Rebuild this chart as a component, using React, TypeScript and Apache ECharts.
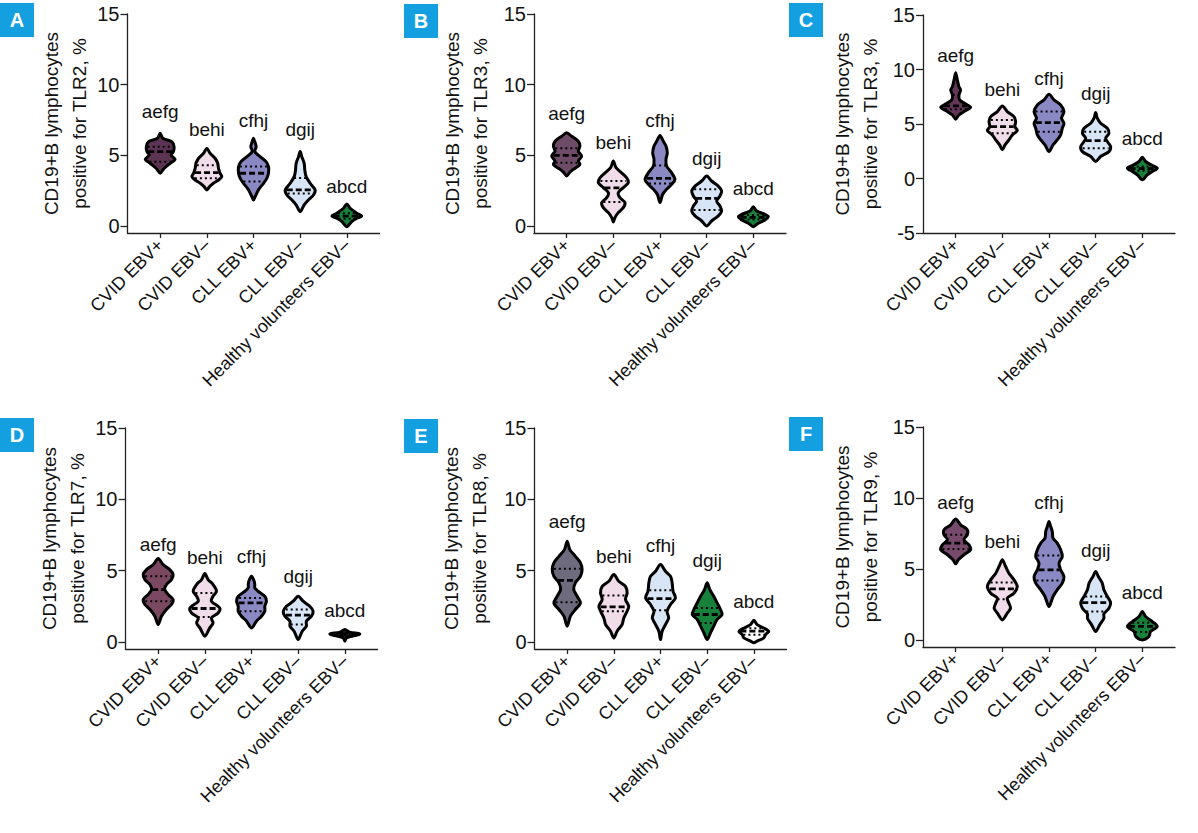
import React, { useEffect, useRef } from "react";
import * as echarts from "echarts";

const categories = ["CVID EBV+", "CVID EBV–", "CLL EBV+", "CLL EBV–", "Healthy volunteers EBV–"];
const letters = ["aefg", "behi", "cfhj", "dgij", "abcd"];
const panelLetters = ["A", "B", "C", "D", "E", "F"];
const receptors = ["TLR2", "TLR3", "TLR3", "TLR7", "TLR8", "TLR9"];
const yMins = [-0.5, -0.5, -5, -0.5, -0.5, -0.5];
const yTicks = [[0, 5, 10, 15], [0, 5, 10, 15], [-5, 0, 5, 10, 15], [0, 5, 10, 15], [0, 5, 10, 15], [0, 5, 10, 15]];

// violin profiles: [value, relative half-width]
const shapesA = [
  [[6.56, 0], [6.2, 0.18], [5.97, 0.78], [5.61, 0.93], [5.26, 0.89], [5.02, 0.73], [4.72, 1], [4.43, 0.67], [4.08, 0.27], [3.73, 0]],
  [[5.5, 0], [5.14, 0.22], [4.79, 0.55], [4.43, 0.73], [4.08, 0.78], [3.73, 0.89], [3.49, 1], [3.25, 0.78], [3.02, 0.44], [2.78, 0.18], [2.55, 0]],
  [[6.2, 0], [5.85, 0.12], [5.6, 0.18], [5.26, 0.09], [4.9, 0.44], [4.55, 0.84], [4.2, 1], [3.73, 1], [3.37, 0.89], [3.02, 0.67], [2.55, 0.33], [2.08, 0.11], [1.84, 0]],
  [[5.26, 0], [4.9, 0.11], [4.43, 0.27], [3.96, 0.31], [3.49, 0.4], [3.02, 0.67], [2.55, 1], [2.19, 0.89], [1.84, 0.55], [1.49, 0.27], [1.01, 0]],
  [[1.56, 0], [1.25, 0.22], [0.9, 0.67], [0.71, 1], [0.54, 0.67], [0.31, 0.33], [-0.05, 0]],
];
const shapesB = [
  [[6.59, 0], [6.35, 0.33], [6.0, 0.78], [5.65, 0.89], [5.29, 0.78], [4.94, 1], [4.59, 0.78], [4.35, 0.89], [4.0, 0.44], [3.76, 0.18], [3.53, 0]],
  [[4.59, 0], [4.12, 0.18], [3.76, 0.55], [3.41, 0.89], [3.06, 1], [2.71, 0.67], [2.35, 0.33], [2.0, 0.44], [1.65, 0.78], [1.29, 0.67], [0.94, 0.33], [0.59, 0.11], [0.28, 0]],
  [[6.4, 0], [6.0, 0.22], [5.65, 0.4], [5.18, 0.49], [4.7, 0.4], [4.24, 0.44], [3.76, 0.78], [3.29, 1], [2.94, 0.78], [2.59, 0.44], [2.24, 0.18], [1.65, 0]],
  [[3.53, 0], [3.18, 0.33], [2.82, 0.78], [2.47, 1], [2.12, 0.89], [1.76, 0.67], [1.41, 0.89], [1.06, 1], [0.71, 0.78], [0.35, 0.33], [0, 0]],
  [[1.36, 0], [1.06, 0.22], [0.82, 0.78], [0.66, 1], [0.42, 0.78], [0.19, 0.33], [-0.05, 0]],
];
const shapesC = [
  [[9.71, 0], [9.04, 0.11], [8.43, 0.22], [8.12, 0.33], [7.66, 0.22], [7.21, 0.27], [6.75, 0.78], [6.53, 1], [6.23, 0.67], [5.83, 0.22], [5.44, 0]],
  [[6.66, 0], [6.14, 0.33], [5.68, 0.78], [5.22, 0.89], [4.76, 0.84], [4.4, 1], [4.0, 0.67], [3.54, 0.44], [3.08, 0.18], [2.63, 0]],
  [[7.73, 0], [7.21, 0.33], [6.75, 0.78], [6.14, 1], [5.53, 0.84], [5.07, 1], [4.61, 0.89], [4.0, 0.78], [3.54, 0.55], [3.08, 0.27], [2.47, 0]],
  [[6.05, 0], [5.53, 0.11], [5.07, 0.33], [4.61, 0.78], [4.15, 0.89], [3.69, 0.67], [3.39, 0.78], [2.93, 1], [2.47, 0.89], [2.02, 0.33], [1.56, 0]],
  [[1.95, 0], [1.56, 0.22], [1.19, 0.67], [0.95, 1], [0.64, 0.67], [0.34, 0.33], [-0.12, 0]],
];
const shapesD = [
  [[5.84, 0], [5.42, 0.33], [5.07, 0.78], [4.72, 1], [4.37, 0.89], [4.02, 0.55], [3.67, 0.44], [3.32, 0.67], [2.97, 1], [2.62, 0.89], [2.27, 0.55], [1.8, 0.22], [1.21, 0]],
  [[4.79, 0], [4.37, 0.22], [4.02, 0.55], [3.55, 0.78], [3.2, 0.55], [2.85, 0.44], [2.38, 1], [2.03, 0.89], [1.68, 0.44], [1.33, 0.55], [0.98, 0.33], [0.4, 0]],
  [[4.6, 0], [4.25, 0.18], [4.02, 0.22], [3.79, 0.22], [3.55, 0.44], [3.2, 0.89], [2.85, 1], [2.5, 0.89], [2.15, 0.89], [1.8, 0.67], [1.45, 0.33], [0.98, 0]],
  [[3.2, 0], [2.85, 0.33], [2.5, 0.78], [2.15, 1], [1.8, 0.89], [1.45, 0.55], [1.1, 0.55], [0.75, 0.27], [0.16, 0]],
  [[0.86, 0], [0.68, 0.33], [0.56, 1], [0.44, 0.67], [0.28, 0.11], [0.05, 0]],
];
const shapesE = [
  [[7.06, 0], [6.47, 0.18], [6.0, 0.55], [5.54, 0.89], [5.07, 1], [4.6, 0.89], [4.14, 0.55], [3.67, 0.44], [3.2, 0.67], [2.73, 0.89], [2.27, 0.55], [1.8, 0.22], [1.1, 0]],
  [[4.72, 0], [4.25, 0.33], [3.9, 0.78], [3.43, 0.89], [2.97, 0.78], [2.5, 1], [2.15, 0.89], [1.68, 0.67], [1.21, 0.55], [0.75, 0.22], [0.28, 0]],
  [[5.42, 0], [4.95, 0.33], [4.6, 0.67], [4.14, 0.78], [3.55, 0.84], [3.08, 1], [2.62, 0.67], [2.15, 0.44], [1.68, 0.55], [1.21, 0.33], [0.75, 0.11], [0.16, 0]],
  [[4.14, 0], [3.67, 0.18], [3.2, 0.44], [2.73, 0.67], [2.27, 0.89], [1.92, 1], [1.57, 0.67], [1.1, 0.44], [0.63, 0.22], [0.16, 0]],
  [[1.52, 0], [1.21, 0.22], [0.91, 0.78], [0.75, 1], [0.51, 0.78], [0.28, 0.67], [0.05, 0.22], [-0.07, 0]],
];
const shapesF = [
  [[8.51, 0], [8.11, 0.33], [7.76, 0.78], [7.41, 0.78], [7.05, 0.55], [6.7, 0.89], [6.35, 1], [6.0, 0.55], [5.64, 0.18], [5.36, 0]],
  [[5.64, 0], [5.17, 0.22], [4.7, 0.44], [4.23, 0.78], [3.76, 1], [3.29, 0.78], [2.94, 0.33], [2.59, 0.44], [2.23, 0.55], [1.88, 0.33], [1.41, 0]],
  [[8.35, 0], [8.0, 0.11], [7.64, 0.22], [7.17, 0.27], [6.82, 0.55], [6.35, 0.78], [5.88, 0.89], [5.41, 0.67], [4.94, 0.78], [4.47, 1], [4.0, 0.89], [3.53, 0.55], [3.06, 0.27], [2.35, 0]],
  [[4.82, 0], [4.47, 0.18], [4.0, 0.44], [3.53, 0.55], [3.06, 0.78], [2.63, 1], [2.23, 0.89], [1.83, 0.55], [1.53, 0.55], [1.06, 0.27], [0.59, 0]],
  [[2.0, 0], [1.65, 0.22], [1.29, 0.67], [0.94, 1], [0.59, 0.55], [0.24, 0.44], [0, 0]],
];

const mediansA = [5.26, 3.77, 3.73, 2.55, 0.7];
const q3A = [5.6, 4.3, 4.2, 3.4, 0.9];
const q1A = [4.55, 3.37, 3.14, 2.3, 0.5];
const mediansB = [5.0, 2.7, 3.36, 1.95, 0.6];
const q3B = [5.5, 3.18, 4.28, 2.59, 0.78];
const q1B = [4.47, 1.69, 3.0, 1.13, 0.45];
const mediansC = [6.66, 4.76, 5.13, 3.48, 0.9];
const q3C = [7.66, 5.37, 6.14, 4.3, 1.1];
const q1C = [6.35, 4.15, 4.3, 2.78, 0.7];
const mediansD = [3.67, 2.34, 2.73, 1.87, 0.55];
const q3D = [4.6, 3.43, 3.08, 2.27, 0.62];
const q1D = [2.85, 1.75, 2.15, 1.21, 0.48];
const mediansE = [4.32, 2.45, 3.04, 1.92, 0.75];
const q3E = [5.12, 3.25, 3.62, 2.38, 0.95];
const q1E = [2.78, 2.15, 2.22, 1.33, 0.5];
const mediansF = [6.82, 3.6, 4.94, 2.63, 0.95];
const q3F = [7.41, 4.04, 5.95, 3.06, 1.2];
const q1F = [6.4, 2.87, 4.19, 2.0, 0.55];

const labelYA = [8.1, 6.8, 7.43, 6.86, 2.76];
const labelYB = [7.95, 5.88, 7.48, 4.78, 2.66];
const labelYC = [11.27, 8.21, 9.13, 7.76, 3.63];
const labelYD = [6.82, 5.89, 6.0, 4.6, 2.22];
const labelYE = [8.41, 5.96, 6.78, 5.72, 2.8];
const labelYF = [9.71, 6.94, 9.71, 6.3, 3.36];

const PINK = "#f1dcea";
const LAV = "#8b89c4";
const LBLUE = "#d8e5f6";
const GREEN = "#17803a";
const colorsA = ["#5c3352", PINK, LAV, LBLUE, GREEN];
const colorsB = ["#6e4c68", PINK, LAV, LBLUE, GREEN];
const colorsC = ["#633556", PINK, LAV, LBLUE, GREEN];
const colorsD = ["#7b4862", PINK, LAV, LBLUE, "#1b1b1b"];
const colorsE = ["#6d6b7d", PINK, LBLUE, GREEN, "#ffffff"];
const colorsF = ["#774a6c", PINK, LAV, LBLUE, GREEN];

const panels = [
  { shapes: shapesA, med: mediansA, q3: q3A, q1: q1A, labelY: labelYA, colors: colorsA },
  { shapes: shapesB, med: mediansB, q3: q3B, q1: q1B, labelY: labelYB, colors: colorsB },
  { shapes: shapesC, med: mediansC, q3: q3C, q1: q1C, labelY: labelYC, colors: colorsC },
  { shapes: shapesD, med: mediansD, q3: q3D, q1: q1D, labelY: labelYD, colors: colorsD },
  { shapes: shapesE, med: mediansE, q3: q3E, q1: q1E, labelY: labelYE, colors: colorsE },
  { shapes: shapesF, med: mediansF, q3: q3F, q1: q1F, labelY: labelYF, colors: colorsF },
];

// layout
const grids = [
  { left: 127.5, top: 14, width: 252, height: 219 },
  { left: 534, top: 14, width: 252, height: 219 },
  { left: 923, top: 15, width: 252, height: 218 },
  { left: 125.5, top: 428, width: 252, height: 221 },
  { left: 534.5, top: 428, width: 252, height: 221 },
  { left: 923, top: 427, width: 252, height: 220 },
];
const nameGaps = [33, 40, 39, 33, 41, 39];
const boxes = [
  [0, 3], [404, 4], [789, 3], [0, 418], [404, 419], [789, 417],
];

const FONT = '"Liberation Sans", Arial, sans-serif';
const HALF = 0.32;

function widthAt(profile: number[][], v: number) {
  for (let k = 0; k < profile.length - 1; k++) {
    const [v0, r0] = profile[k];
    const [v1, r1] = profile[k + 1];
    if (v <= v0 && v >= v1) {
      const t = (v0 - v) / (v0 - v1 || 1);
      return r0 + (r1 - r0) * t;
    }
  }
  return 0;
}

function makeSeries(p: any, gi: number) {
  return {
    type: "custom",
    xAxisIndex: gi,
    yAxisIndex: gi,
    data: p.med.map((m: number, i: number) => [i, m]),
    renderItem: (params: any, api: any) => {
      const i = params.dataIndex;
      const prof = p.shapes[i];
      const right = prof.map(([v, r]: number[]) => api.coord([i + r * HALF, v]));
      const left = prof
        .slice(1, -1)
        .reverse()
        .map(([v, r]: number[]) => api.coord([i - r * HALF, v]));
      const pts = right.concat(left);
      const children: any[] = [
        {
          type: "polygon",
          shape: { points: pts, smooth: 0.3 },
          style: { fill: p.colors[i], stroke: "#000", lineWidth: 3, lineJoin: "round" },
        },
      ];
      const addLine = (v: number, dash: number[], lw: number) => {
        const w = widthAt(prof, v) * HALF * 0.9;
        if (w <= 0) return;
        const a = api.coord([i - w, v]);
        const b = api.coord([i + w, v]);
        children.push({
          type: "line",
          shape: { x1: a[0], y1: a[1], x2: b[0], y2: b[1] },
          style: { stroke: "#000", lineWidth: lw, lineDash: dash },
        });
      };
      addLine(p.q3[i], [2, 3], 2);
      addLine(p.q1[i], [2, 3], 2);
      addLine(p.med[i], [6, 3], 2.8);
      const t = api.coord([i, p.labelY[i]]);
      children.push({
        type: "text",
        x: t[0],
        y: t[1],
        style: {
          text: letters[i],
          fill: "#111",
          fontSize: 19,
          fontFamily: FONT,
          align: "center",
          verticalAlign: "middle",
          textAlign: "center",
          textVerticalAlign: "middle",
        },
      });
      return { type: "group", children };
    },
  };
}

export default function App() {
  const ref = useRef<HTMLDivElement>(null);
  useEffect(() => {
    document.body.style.margin = "0";
    const chart = echarts.init(ref.current!, undefined, { renderer: "svg" });
    const axisColor = "#222";
    const option: any = {
      animation: false,
      backgroundColor: "#ffffff",
      grid: grids.map((g) => ({ ...g, containLabel: false })),
      xAxis: grids.map((_, gi) => ({
        type: "value",
        gridIndex: gi,
        min: -0.7,
        max: 4.7,
        splitLine: { show: false },
        axisLine: { show: true, onZero: false, lineStyle: { color: axisColor, width: 1.3 } },
        axisTick: { show: true, customValues: [0, 1, 2, 3, 4], length: 5, lineStyle: { color: axisColor, width: 1.3 } },
        axisLabel: {
          customValues: [0, 1, 2, 3, 4],
          rotate: 45,
          margin: 9,
          fontSize: 18,
          fontFamily: FONT,
          color: "#111",
          formatter: (v: number) => categories[Math.round(v)] ?? "",
        },
      })),
      yAxis: grids.map((_, gi) => ({
        type: "value",
        gridIndex: gi,
        min: yMins[gi],
        max: 15,
        splitLine: { show: false },
        axisLine: { show: true, onZero: false, lineStyle: { color: axisColor, width: 1.3 } },
        axisTick: { show: true, customValues: yTicks[gi], length: 7, lineStyle: { color: axisColor, width: 1.3 } },
        axisLabel: {
          customValues: yTicks[gi],
          margin: 8,
          fontSize: 20,
          fontFamily: FONT,
          color: "#111",
        },
        name: "CD19+B lymphocytes\npositive for " + receptors[gi] + ", %",
        nameLocation: "middle",
        nameRotate: 90,
        nameGap: nameGaps[gi],
        nameTextStyle: { fontSize: 19, fontFamily: FONT, color: "#111", lineHeight: 28 },
      })),
      series: panels.map((p, gi) => makeSeries(p, gi)),
      graphic: boxes.flatMap(([x, y], k) => [
        { type: "rect", shape: { x, y, width: 34, height: 34 }, style: { fill: "#139fe0" } },
        {
          type: "text",
          x: x + 17,
          y: y + 17,
          style: {
            text: panelLetters[k],
            fill: "#ffffff",
            fontSize: 20,
            fontWeight: "bold",
            fontFamily: FONT,
            align: "center",
            verticalAlign: "middle",
            textAlign: "center",
            textVerticalAlign: "middle",
          },
        },
      ]),
    };
    chart.setOption(option);
    return () => chart.dispose();
  }, []);
  return <div ref={ref} style={{ width: 1198, height: 833 }} />;
}
